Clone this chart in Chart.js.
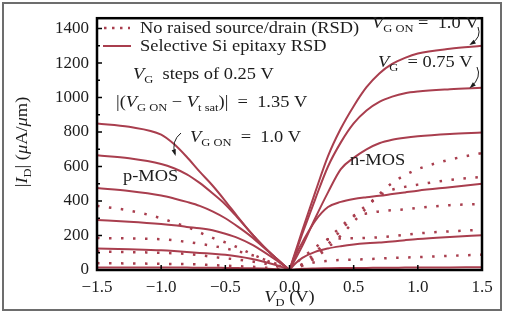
<!DOCTYPE html>
<html lang="en">
<head>
<meta charset="UTF-8" />
<title>Drain current vs drain voltage, RSD comparison</title>
<script src="https://cdn.jsdelivr.net/npm/chart.js"></script>
<style>
  body { margin: 0; background: #fff; }
  .wrap { position: relative; width: 505px; height: 312px; }
</style>
</head>
<body>
<div class="wrap"><canvas id="chart"></canvas></div>
<script>
  // drain voltage grids (V)
  const vdN = [0, 0.05, 0.1, 0.2, 0.3, 0.4, 0.5, 0.6, 0.7, 0.8, 0.9, 1.0, 1.25, 1.5];
  const vdP = [-1.5, -1.25, -1.0, -0.9, -0.8, -0.7, -0.6, -0.5, -0.4, -0.3, -0.2, -0.1, -0.05, 0];

  // n-MOS, selective Si epitaxy RSD (uA/um), VG from 1.0 V down
  const nEpi1 = [0, 115, 230, 450, 660, 820, 950, 1060, 1140, 1195, 1230, 1255, 1283, 1300];
  const nEpi2 = [0, 105, 210, 410, 600, 740, 850, 925, 975, 1005, 1025, 1035, 1048, 1057];
  const nEpi3 = [0, 70, 140, 300, 450, 585, 650, 700, 735, 755, 767, 775, 788, 797];
  const nEpi4 = [0, 90, 160, 285, 365, 395, 412, 422, 430, 440, 450, 460, 480, 500];
  const nEpi5 = [0, 40, 70, 105, 125, 138, 148, 155, 160, 165, 173, 180, 192, 202];
  const nEpi6 = [0, 4, 7, 9, 10, 11, 12, 12, 13, 13, 14, 14, 15, 16];

  // n-MOS, no raised source/drain
  const nNo1 = [0, 12, 25, 70, 130, 200, 280, 360, 440, 505, 550, 585, 640, 678];
  const nNo2 = [0, 14, 30, 80, 150, 230, 310, 375, 430, 465, 482, 495, 522, 540];
  const nNo3 = [0, 15, 35, 100, 180, 250, 315, 328, 340, 347, 352, 360, 376, 383];
  const nNo4 = [0, 38, 70, 130, 178, 183, 184, 186, 190, 196, 204, 212, 224, 233];
  const nNo5 = [0, 15, 28, 45, 53, 58, 60, 63, 66, 70, 72, 75, 82, 89];

  // p-MOS, selective Si epitaxy RSD
  const pEpi1 = [850, 830, 785, 730, 655, 570, 490, 400, 305, 215, 135, 65, 32, 0];
  const pEpi2 = [665, 648, 615, 590, 555, 505, 445, 380, 300, 215, 135, 65, 32, 0];
  const pEpi3 = [475, 458, 432, 415, 395, 372, 340, 300, 250, 195, 130, 65, 32, 0];
  const pEpi4 = [290, 280, 267, 260, 250, 242, 230, 210, 185, 150, 105, 55, 28, 0];
  const pEpi5 = [125, 120, 114, 110, 105, 99, 94, 88, 78, 65, 48, 28, 15, 0];
  const pEpi6 = [15, 15, 14, 14, 14, 13, 13, 12, 11, 10, 8, 5, 3, 0];

  // p-MOS, no raised source/drain
  const pNo1 = [372, 345, 300, 275, 250, 218, 186, 160, 130, 95, 62, 30, 15, 0];
  const pNo2 = [185, 183, 178, 172, 163, 152, 140, 125, 108, 88, 62, 35, 18, 0];
  const pNo3 = [108, 104, 100, 97, 93, 86, 76, 68, 60, 50, 38, 22, 12, 0];
  const pNo4 = [40, 38, 36, 35, 34, 32, 28, 25, 22, 19, 14, 8, 4, 0];

  const xTicks = [-1.5, -1.0, -0.5, 0, 0.5, 1.0, 1.5];
  const yTicks = [0, 200, 400, 600, 800, 1000, 1200, 1400];

  const RED = '#a93e4e';
  const INK = '#1c1c1c';
  const SERIF = '"Liberation Serif", "DejaVu Serif", serif';
  const SX = 1.15; // the source lettering is a little wide

  function pts(xs, ys) {
    return xs.map((x, i) => ({ x: x, y: ys[i] }));
  }
  function solid(xs, ys) {
    return { data: pts(xs, ys), showLine: true, pointRadius: 0, borderColor: RED,
             borderWidth: 2, cubicInterpolationMode: 'monotone', fill: false };
  }
  function dotted(xs, ys) {
    return { data: pts(xs, ys), showLine: true, pointRadius: 0, borderColor: RED,
             borderWidth: 2.5, borderDash: [2.5, 9.5], cubicInterpolationMode: 'monotone', fill: false };
  }

  const datasets = [
    ...[nEpi1, nEpi2, nEpi3, nEpi4, nEpi5, nEpi6].map(s => solid(vdN, s)),
    ...[pEpi1, pEpi2, pEpi3, pEpi4, pEpi5, pEpi6].map(s => solid(vdP, s)),
    ...[nNo1, nNo2, nNo3, nNo4, nNo5].map(s => dotted(vdN, s)),
    ...[pNo1, pNo2, pNo3, pNo4].map(s => dotted(vdP, s))
  ];

  // text with italic / subscript pieces, slightly stretched
  function setFont(ctx, s, size) {
    const sub = s.indexOf('s') >= 0;
    ctx.font = (s.indexOf('i') >= 0 ? 'italic ' : '') + (sub ? size * 0.68 : size) + 'px ' + SERIF;
    return sub;
  }
  function rich(ctx, x, y, parts, size) {
    for (const [t, s] of parts) {
      const sub = setFont(ctx, s, size);
      ctx.save();
      ctx.translate(x, y + (sub ? size * 0.28 : 0));
      ctx.scale(SX, 1);
      ctx.fillText(t, 0, 0);
      ctx.restore();
      x += ctx.measureText(t).width * SX;
    }
    return x;
  }
  function richWidth(ctx, parts, size) {
    let w = 0;
    for (const [t, s] of parts) {
      setFont(ctx, s, size);
      w += ctx.measureText(t).width * SX;
    }
    return w;
  }
  function arrow(ctx, x0, y0, cx, cy, x1, y1) {
    ctx.beginPath();
    ctx.moveTo(x0, y0);
    ctx.quadraticCurveTo(cx, cy, x1, y1);
    ctx.stroke();
    const a = Math.atan2(y1 - cy, x1 - cx);
    ctx.beginPath();
    ctx.moveTo(x1 + 2 * Math.cos(a), y1 + 2 * Math.sin(a));
    ctx.lineTo(x1 - 5 * Math.cos(a - 0.45), y1 - 5 * Math.sin(a - 0.45));
    ctx.lineTo(x1 - 5 * Math.cos(a + 0.45), y1 - 5 * Math.sin(a + 0.45));
    ctx.closePath();
    ctx.fill();
  }

  const decor = {
    id: 'decor',
    afterDraw(chart) {
      const ctx = chart.ctx;
      const a = chart.chartArea;
      const xs = chart.scales.x, ys = chart.scales.y;
      ctx.save();

      // outer picture border
      ctx.strokeStyle = '#6d6d6d';
      ctx.lineWidth = 2;
      ctx.strokeRect(3, 3, 498, 307);

      // plot frame
      ctx.strokeStyle = '#000';
      ctx.lineWidth = 2.5;
      ctx.strokeRect(a.left, a.top, a.right - a.left, a.bottom - a.top);

      // inward ticks
      ctx.lineWidth = 1.5;
      ctx.beginPath();
      for (let v = 100; v <= 1400; v += 100) {
        const py = ys.getPixelForValue(v);
        ctx.moveTo(a.left, py);
        ctx.lineTo(a.left + (v % 200 === 0 ? 5 : 3), py);
      }
      for (const v of xTicks) {
        const px = xs.getPixelForValue(v);
        ctx.moveTo(px, a.bottom);
        ctx.lineTo(px, a.bottom - 5);
      }
      ctx.stroke();

      // legend
      ctx.strokeStyle = RED;
      ctx.lineWidth = 2.5;
      ctx.setLineDash([2.5, 5.5]);
      ctx.beginPath(); ctx.moveTo(104, 28); ctx.lineTo(130, 28); ctx.stroke();
      ctx.setLineDash([]);
      ctx.lineWidth = 2;
      ctx.beginPath(); ctx.moveTo(103, 46); ctx.lineTo(131, 46); ctx.stroke();

      ctx.fillStyle = INK;
      ctx.textBaseline = 'alphabetic';
      ctx.textAlign = 'left';
      const fs = 16;
      rich(ctx, 140, 33, [['No raised source/drain (RSD)', '']], fs);
      rich(ctx, 140, 51, [['Selective Si epitaxy RSD', '']], fs);

      rich(ctx, 133, 79, [['V', 'i'], ['G', 's'], ['  steps of 0.25 V', '']], fs);
      rich(ctx, 116, 107, [['|(', ''], ['V', 'i'], ['G ON', 's'], [' − ', ''], ['V', 'i'],
                           ['t sat', 's'], [')|  =  1.35 V', '']], fs);
      rich(ctx, 190, 142, [['V', 'i'], ['G ON', 's'], ['  =  1.0 V', '']], fs);
      rich(ctx, 123, 181, [['p-MOS', '']], fs);
      rich(ctx, 350, 165, [['n-MOS', '']], fs);
      rich(ctx, 372, 28, [['V', 'i'], ['G ON', 's'], [' =  1.0 V', '']], fs);
      rich(ctx, 378, 67, [['V', 'i'], ['G', 's'], ['  = 0.75 V', '']], fs);

      // pointer arrows
      ctx.strokeStyle = INK;
      ctx.fillStyle = INK;
      ctx.lineWidth = 1;
      arrow(ctx, 181, 133, 171, 141, 175, 154);
      arrow(ctx, 478, 27, 482, 37, 471, 44);
      arrow(ctx, 477, 67, 482, 77, 471, 87);

      // axis titles
      const yt = [['|', ''], ['I', 'i'], ['D', 's'], ['| (', ''], ['μ', 'i'], ['A/', ''], ['μ', 'i'], ['m)', '']];
      const w = richWidth(ctx, yt, fs);
      ctx.save();
      ctx.translate(27, 142 + w / 2);
      ctx.rotate(-Math.PI / 2);
      rich(ctx, 0, 0, yt, fs);
      ctx.restore();

      const xt = [['V', 'i'], ['D', 's'], [' (V)', '']];
      const wx = richWidth(ctx, xt, fs);
      rich(ctx, xs.getPixelForValue(0) - wx / 2, 302, xt, fs);

      ctx.restore();
    }
  };

  new Chart(document.getElementById('chart').getContext('2d'), {
    type: 'scatter',
    data: { datasets: datasets },
    options: {
      responsive: true,
      maintainAspectRatio: false,
      animation: false,
      layout: { padding: { left: 0, top: 7, right: 23, bottom: 0 } },
      plugins: { legend: { display: false }, tooltip: { enabled: false } },
      scales: {
        x: {
          type: 'linear', min: -1.5, max: 1.5,
          afterBuildTicks: s => { s.ticks = xTicks.map(v => ({ value: v })); },
          afterFit: s => { s.height = 42; s.paddingLeft = 0; s.paddingRight = 0; },
          grid: { display: false, drawTicks: false },
          border: { display: false },
          ticks: {
            padding: 7, color: INK, maxRotation: 0,
            font: { family: SERIF, size: 17 },
            callback: v => (v < 0 ? '−' : '') + Math.abs(v).toFixed(1)
          }
        },
        y: {
          type: 'linear', min: 0, max: 1460,
          afterBuildTicks: s => { s.ticks = yTicks.map(v => ({ value: v })); },
          afterFit: s => { s.width = 97; },
          grid: { display: false, drawTicks: false },
          border: { display: false },
          ticks: { padding: 8, color: INK, font: { family: SERIF, size: 17 },
                   callback: v => String(v) }
        }
      }
    },
    plugins: [decor]
  });
</script>
</body>
</html>
